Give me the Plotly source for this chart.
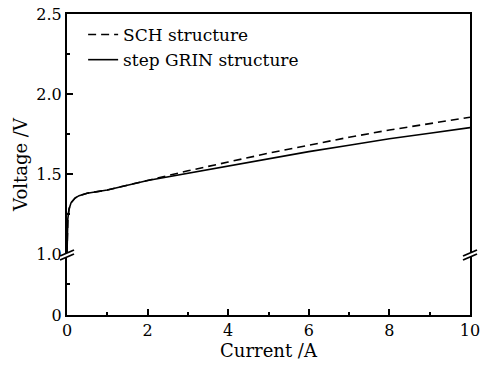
import plotly.graph_objects as go

# Data
current = [0, 0.02, 0.05, 0.1, 0.2, 0.3, 0.5, 1, 2, 3, 4, 5, 6, 7, 8, 9, 10]
v_sch = [1.0, 1.22, 1.28, 1.32, 1.35, 1.365, 1.38, 1.40, 1.46, 1.52, 1.575, 1.63, 1.68, 1.73, 1.775, 1.815, 1.855]
v_grin = [1.0, 1.22, 1.28, 1.32, 1.35, 1.365, 1.38, 1.40, 1.46, 1.505, 1.55, 1.595, 1.64, 1.68, 1.72, 1.755, 1.79]

# broken y axis: 0 is drawn just below the break at 1.0
y_zero_pos = 0.619
y_tick_vals = [y_zero_pos, 1.0, 1.5, 2.0, 2.5]
y_tick_text = ["0", "1.0", "1.5", "2.0", "2.5"]
y_minor_vals = [0.81, 1.25, 1.75, 2.25]
x_tick_vals = [0, 2, 4, 6, 8, 10]

FONT = "DejaVu Serif"

fig = go.Figure()
fig.add_trace(go.Scatter(x=current, y=v_sch, mode="lines", name="SCH structure",
                         line=dict(color="black", width=1.6, dash="8px,5px")))
fig.add_trace(go.Scatter(x=current, y=v_grin, mode="lines", name="step GRIN structure",
                         line=dict(color="black", width=1.6)))

W_PLOT = 403.0
px = 1.0 / W_PLOT
py = 1.0 / 160.0
brk = 0.994
for xc in (0.0, 1.0):
    # white gap
    path = (f"M {xc-7*px},{brk-1*py} L {xc+7*px},{brk+5*py} "
            f"L {xc+7*px},{brk+1*py} L {xc-7*px},{brk-5*py} Z")
    fig.add_shape(type="path", path=path, xref="paper", yref="y",
                  fillcolor="white", line=dict(width=0), layer="above")
    for off in (-2, 2):
        fig.add_shape(type="line", xref="paper", yref="y",
                      x0=xc-7*px, y0=brk+(-3-off)*py, x1=xc+7*px, y1=brk+(3-off)*py,
                      line=dict(color="black", width=1.8), layer="above")

fig.update_layout(
    width=482, height=365,
    margin=dict(l=67, r=12, t=14, b=50),
    paper_bgcolor="white", plot_bgcolor="white",
    font=dict(family=FONT, size=16, color="black"),
    showlegend=True,
    legend=dict(x=0.04, y=0.99, xanchor="left", yanchor="top",
                bgcolor="rgba(0,0,0,0)", borderwidth=0,
                font=dict(family=FONT, size=17), tracegroupgap=0),
    xaxis=dict(range=[0, 10], tickvals=x_tick_vals, ticks="inside", ticklen=6,
               tickwidth=1.5, tickcolor="black", automargin=False,
               ticklabeloverflow="allow",
               minor=dict(dtick=1, ticks="inside", ticklen=3, tickwidth=1.5, tickcolor="black"),
               showline=True, linewidth=2, linecolor="black", mirror=True,
               showgrid=False, zeroline=False,
               title=dict(text="Current /A", font=dict(family=FONT, size=18), standoff=2),
               tickfont=dict(family=FONT, size=16)),
    yaxis=dict(range=[y_zero_pos, 2.5], tickvals=y_tick_vals, ticktext=y_tick_text,
               ticks="inside", ticklen=6, tickwidth=1.5, tickcolor="black", automargin=False,
               ticklabeloverflow="allow",
               minor=dict(tickvals=y_minor_vals, ticks="inside", ticklen=3,
                          tickwidth=1.5, tickcolor="black"),
               showline=True, linewidth=2, linecolor="black", mirror=True,
               showgrid=False, zeroline=False,
               title=dict(text="Voltage /V", font=dict(family=FONT, size=18), standoff=4),
               tickfont=dict(family=FONT, size=16)),
)

fig.write_html("out.html")
